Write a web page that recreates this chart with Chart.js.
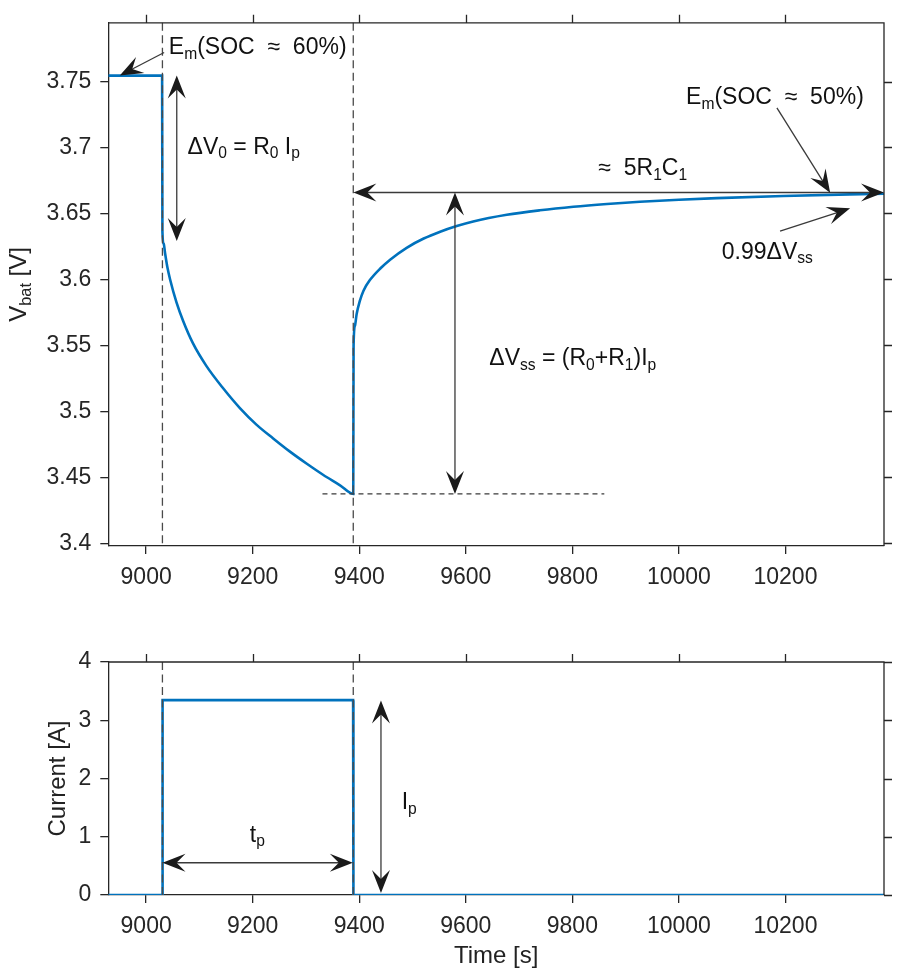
<!DOCTYPE html>
<html><head><meta charset="utf-8">
<script src="https://cdn.jsdelivr.net/npm/chart.js@4.4.1/dist/chart.umd.min.js"></script>
<style>
html,body{margin:0;padding:0;background:#fff;}
#wrap{position:relative;width:902px;height:977px;overflow:hidden;background:#fff;}
canvas{position:absolute;left:0;}
#c1{top:0;} #c2{top:620px;}
</style></head><body>
<div id="wrap"><canvas id="c1" width="902" height="610"></canvas><canvas id="c2" width="902" height="357"></canvas></div>
<script>
// ---------------- data ----------------
const timeV = [8929, 9030, 9030.6, 9033, 9035.5, 9040, 9045, 9057, 9069.5, 9088, 9113, 9144.6, 9176, 9207, 9238.5, 9270, 9301, 9332, 9364, 9388.8,
  9389.4, 9392, 9395, 9401, 9408, 9420, 9440, 9458, 9489, 9521, 9552, 9583, 9614, 9677, 9739, 9802, 9865, 9927, 10000, 10071, 10196, 10321, 10385];
const voltage = [3.7545, 3.7545, 3.636, 3.627, 3.620, 3.609, 3.600, 3.5826, 3.5685, 3.5515, 3.5345, 3.5175, 3.5025, 3.490, 3.4795, 3.4695, 3.4605, 3.452, 3.444, 3.4375,
  3.550, 3.565, 3.5735, 3.5835, 3.5915, 3.5995, 3.6085, 3.6150, 3.6240, 3.6310, 3.6362, 3.6405, 3.6440, 3.6490, 3.6524, 3.6551, 3.6572, 3.6589, 3.6604, 3.6616, 3.6632, 3.6645, 3.665];
const timeI = [8929, 9030.3, 9030.9, 9388.5, 9389.1, 10385];
const current = [0, 0, 3.345, 3.345, 0, 0];
const xTickValues = [9000, 9200, 9400, 9600, 9800, 10000, 10200];
const vTickValues = [3.4, 3.45, 3.5, 3.55, 3.6, 3.65, 3.7, 3.75];
const iTickValues = [0, 1, 2, 3, 4];
const pulseEdges = [9030.6, 9388.8];

// ---------------- annotations (data coordinates) ----------------
const topArrows = [
  {x0: 9057.5, y0: 3.7545, x1: 9057.5, y1: 3.6291, both: true},
  {x0: 9033.8, y0: 3.7720, x1: 8950.6, y1: 3.7545, both: false},
  {x0: 9389, y0: 3.6659, x1: 10385, y1: 3.6659, both: true},
  {x0: 9579.7, y0: 3.6659, x1: 9579.7, y1: 3.4375, both: true},
  {x0: 10184, y0: 3.7300, x1: 10283.9, y1: 3.6657, both: false},
  {x0: 10189.9, y0: 3.6366, x1: 10321.4, y1: 3.6539, both: false}
];
const topLabels = [
  {x: 9042.6, y: 3.7708, parts: [['E'], ['m', 1], ['(SOC  \u2248  60%)']]},
  {x: 9077.7, y: 3.6952, parts: [['\u0394V'], ['0', 1], [' = R'], ['0', 1], [' I'], ['p', 1]]},
  {x: 9848.8, y: 3.6789, parts: [['\u2248  5R'], ['1', 1], ['C'], ['1', 1]]},
  {x: 10013.5, y: 3.7327, parts: [['E'], ['m', 1], ['(SOC  \u2248  50%)']]},
  {x: 10080.6, y: 3.6156, parts: [['0.99\u0394V'], ['ss', 1]]},
  {x: 9644.1, y: 3.5350, parts: [['\u0394V'], ['ss', 1], [' = (R'], ['0', 1], ['+R'], ['1', 1], [')I'], ['p', 1]]}
];
const topDotted = {y: 3.4375, x0: 9331, x1: 9860};
const botArrows = [
  {x0: 9030.7, y0: 0.554, x1: 9388, y1: 0.554, both: true},
  {x0: 9440.8, y0: 3.34, x1: 9440.8, y1: 0.035, both: true}
];
const botLabels = [
  {x: 9194.7, y: 0.915, parts: [['t'], ['p', 1]]},
  {x: 9479.6, y: 1.471, parts: [['I'], ['p', 1]]}
];

// ---------------- style ----------------
const FONT = "'Liberation Sans', Arial, Helvetica, sans-serif";
const AX = '#262626';
const BLUE = '#0072BD';
const TXT = 23, TITLE = 24;

function fontStr(size){ return size + 'px ' + FONT; }
function richWidth(ctx, parts, size){
  let w = 0;
  for (const p of parts){ ctx.font = fontStr(p[1] ? size*0.68 : size); w += ctx.measureText(p[0]).width; }
  return w;
}
function drawRich(ctx, parts, x, y, size){
  let cx = x;
  ctx.textAlign = 'left'; ctx.textBaseline = 'alphabetic';
  for (const p of parts){
    const s = p[1] ? size*0.68 : size;
    ctx.font = fontStr(s);
    ctx.fillText(p[0], cx, p[1] ? y + size*0.2 : y);
    cx += ctx.measureText(p[0]).width;
  }
}
function head(ctx, tx, ty, ux, uy){
  const L = 23, W = 9, N = 14;
  const nx = -uy, ny = ux;
  ctx.beginPath();
  ctx.moveTo(tx, ty);
  ctx.lineTo(tx - L*ux + W*nx, ty - L*uy + W*ny);
  ctx.lineTo(tx - N*ux, ty - N*uy);
  ctx.lineTo(tx - L*ux - W*nx, ty - L*uy - W*ny);
  ctx.closePath(); ctx.fill();
}
function arrow(ctx, a, sx, sy){
  const x0 = sx.getPixelForValue(a.x0), y0 = sy.getPixelForValue(a.y0);
  const x1 = sx.getPixelForValue(a.x1), y1 = sy.getPixelForValue(a.y1);
  const d = Math.hypot(x1-x0, y1-y0), ux = (x1-x0)/d, uy = (y1-y0)/d;
  ctx.save();
  ctx.strokeStyle = '#3a3a3a'; ctx.lineWidth = 1.3; ctx.setLineDash([]);
  ctx.beginPath();
  const s0 = a.both ? 12 : 0;
  ctx.moveTo(x0 + ux*s0, y0 + uy*s0);
  ctx.lineTo(x1 - ux*12, y1 - uy*12);
  ctx.stroke();
  ctx.fillStyle = '#1a1a1a';
  head(ctx, x1, y1, ux, uy);
  if (a.both) head(ctx, x0, y0, -ux, -uy);
  ctx.restore();
}

function makeFrame(yTicks){
  return {
    id: 'frame',
    afterDraw(chart){
      const ctx = chart.ctx, a = chart.chartArea, sx = chart.scales.x, sy = chart.scales.y;
      ctx.save();
      ctx.strokeStyle = AX; ctx.lineWidth = 1.3; ctx.setLineDash([]);
      ctx.beginPath();
      ctx.moveTo(a.left, a.top); ctx.lineTo(a.right, a.top); ctx.lineTo(a.right, a.bottom);
      for (const v of xTickValues){ const px = Math.round(sx.getPixelForValue(v)) + 0.5; ctx.moveTo(px, a.top); ctx.lineTo(px, a.top - 8); }
      for (const v of yTicks){ const py = Math.round(sy.getPixelForValue(v)) + 0.5; ctx.moveTo(a.right, py); ctx.lineTo(a.right + 8, py); }
      ctx.stroke();
      ctx.restore();
    }
  };
}
function makeNotes(arrows, labels, dotted, yTitle, xTitle){
  return {
    id: 'notes',
    afterDatasetsDraw(chart){
      const ctx = chart.ctx, a = chart.chartArea, sx = chart.scales.x, sy = chart.scales.y;
      ctx.save();
      ctx.strokeStyle = '#4a4a4a'; ctx.lineWidth = 1.3; ctx.setLineDash([8, 4.5]);
      for (const t of pulseEdges){
        const px = sx.getPixelForValue(t);
        ctx.beginPath(); ctx.moveTo(px, a.top); ctx.lineTo(px, a.bottom); ctx.stroke();
      }
      if (dotted){
        ctx.strokeStyle = '#3a3a3a';
        ctx.setLineDash([5, 4]);
        const py = sy.getPixelForValue(dotted.y);
        ctx.beginPath(); ctx.moveTo(sx.getPixelForValue(dotted.x0), py); ctx.lineTo(sx.getPixelForValue(dotted.x1), py); ctx.stroke();
      }
      ctx.setLineDash([]);
      for (const ar of arrows) arrow(ctx, ar, sx, sy);
      ctx.fillStyle = '#111';
      for (const l of labels) drawRich(ctx, l.parts, sx.getPixelForValue(l.x), sy.getPixelForValue(l.y), TXT);
      ctx.fillStyle = '#222';
      if (yTitle){
        const w = richWidth(ctx, yTitle.parts, TITLE);
        ctx.save();
        ctx.translate(yTitle.x, (a.top + a.bottom)/2);
        ctx.rotate(-Math.PI/2);
        drawRich(ctx, yTitle.parts, -w/2, 0, TITLE);
        ctx.restore();
      }
      if (xTitle){
        const w = richWidth(ctx, xTitle.parts, TITLE);
        drawRich(ctx, xTitle.parts, (a.left + a.right)/2 - w/2, xTitle.y, TITLE);
      }
      ctx.restore();
    }
  };
}

function xScale(h){
  return {
    type: 'linear', min: 8929, max: 10385,
    afterBuildTicks: s => { s.ticks = xTickValues.map(v => ({value: v})); },
    afterFit: s => { s.height = h; },
    ticks: {font: {family: FONT, size: TXT}, color: AX, padding: 10, maxRotation: 0, autoSkip: false, callback: v => String(v)},
    grid: {drawOnChartArea: false, drawTicks: true, tickLength: 8, color: AX, lineWidth: 1.3},
    border: {display: true, color: AX, width: 1.3}
  };
}
function yScale(min, max, vals){
  return {
    type: 'linear', min: min, max: max,
    afterBuildTicks: s => { s.ticks = vals.map(v => ({value: v})); },
    afterFit: s => { s.width = 108.3; },
    ticks: {font: {family: FONT, size: TXT}, color: AX, padding: 9, autoSkip: false, callback: v => String(Number(v.toFixed(2)))},
    grid: {drawOnChartArea: false, drawTicks: true, tickLength: 8, color: AX, lineWidth: 1.3},
    border: {display: true, color: AX, width: 1.3}
  };
}
function lineDataset(xs, ys, smooth){
  const ds = {data: xs.map((t, i) => ({x: t, y: ys[i]})), borderColor: BLUE, borderWidth: 2.6, pointRadius: 0, fill: false, tension: 0};
  if (smooth) ds.cubicInterpolationMode = 'monotone';
  return ds;
}

new Chart(document.getElementById('c1'), {
  type: 'line',
  data: {datasets: [lineDataset(timeV, voltage, true)]},
  options: {
    responsive: false, animation: false, devicePixelRatio: 1,
    layout: {padding: {top: 17.5, right: 18, left: 0, bottom: 0}},
    plugins: {legend: {display: false}, tooltip: {enabled: false}},
    scales: {x: xScale(64), y: yScale(3.398, 3.7945, vTickValues)}
  },
  plugins: [makeFrame(vTickValues), makeNotes(topArrows, topLabels, topDotted, {x: 26, parts: [['V'], ['bat', 1], [' [V]']]}, null)]
});

new Chart(document.getElementById('c2'), {
  type: 'line',
  data: {datasets: [lineDataset(timeI, current, false)]},
  options: {
    responsive: false, animation: false, devicePixelRatio: 1,
    layout: {padding: {top: 42, right: 18, left: 0, bottom: 0}},
    plugins: {legend: {display: false}, tooltip: {enabled: false}},
    scales: {x: xScale(82), y: yScale(0, 4, iTickValues)}
  },
  plugins: [makeFrame(iTickValues), makeNotes(botArrows, botLabels, null, {x: 65, parts: [['Current [A]']]}, {y: 343, parts: [['Time [s]']]})]
});
</script>
</body></html>
